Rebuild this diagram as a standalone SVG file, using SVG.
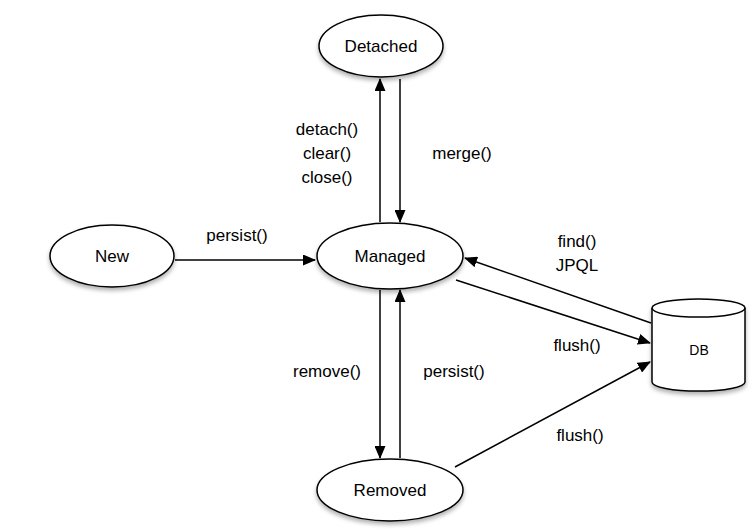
<svg xmlns="http://www.w3.org/2000/svg" width="755" height="530" viewBox="0 0 755 530">
<defs>
<marker id="a" markerWidth="13" markerHeight="11" refX="12" refY="5.5" orient="auto" markerUnits="userSpaceOnUse" viewBox="0 0 13 11"><path d="M0,0 L13,5.5 L0,11 z" fill="#000"/></marker>
<filter id="s" x="-20%" y="-20%" width="140%" height="150%"><feDropShadow dx="0" dy="3" stdDeviation="2" flood-opacity="0.3"/></filter>
</defs>
<style>
.n{fill:#fff;stroke:#000;stroke-width:1.5;filter:url(#s)}
text{font-family:"Liberation Sans",Arial,sans-serif;font-size:17px;fill:#000}
.c{text-anchor:middle}
.e{stroke:#000;stroke-width:1.5;fill:none;marker-end:url(#a)}
</style>
<rect width="755" height="530" fill="#fff"/>
<g id="detached"><ellipse class="n" cx="381" cy="46" rx="62" ry="31"/><text class="c" x="381" y="52">Detached</text></g>
<g id="new"><ellipse class="n" cx="112" cy="256" rx="62" ry="31"/><text class="c" x="112" y="262">New</text></g>
<g id="managed"><ellipse class="n" cx="390" cy="256" rx="73" ry="33"/><text class="c" x="390" y="262">Managed</text></g>
<g id="removed"><ellipse class="n" cx="390" cy="490" rx="73" ry="31"/><text class="c" x="390" y="496">Removed</text></g>
<g id="db"><path class="n" d="M652,308 A46,9 0 0 1 745,308 L745,382 A46,9 0 0 1 652,382 Z"/><path d="M652,308 A46,9 0 0 0 745,308" fill="none" stroke="#000" stroke-width="1.5"/><text class="c" x="699" y="355" style="font-size:14px">DB</text></g>
<g id="connectors">
<line class="e" x1="380" y1="222" x2="380" y2="79"/>
<line class="e" x1="400" y1="79" x2="400" y2="222"/>
<line class="e" x1="380" y1="290" x2="380" y2="458"/>
<line class="e" x1="400" y1="458" x2="400" y2="290"/>
<line class="e" x1="175" y1="260" x2="315" y2="260"/>
<line class="e" x1="651" y1="323" x2="465" y2="258"/>
<line class="e" x1="456" y1="280" x2="650" y2="343"/>
<line class="e" x1="455" y1="467" x2="650" y2="362"/>
</g>
<g id="labels">
<text class="c" x="327" y="135">detach()</text>
<text class="c" x="327" y="159">clear()</text>
<text class="c" x="327" y="183">close()</text>
<text class="c" x="462" y="159">merge()</text>
<text class="c" x="237" y="241">persist()</text>
<text class="c" x="577" y="247">find()</text>
<text class="c" x="577" y="271">JPQL</text>
<text class="c" x="577" y="351">flush()</text>
<text class="c" x="327" y="377">remove()</text>
<text class="c" x="454" y="377">persist()</text>
<text class="c" x="580" y="441">flush()</text>
</g>
</svg>
